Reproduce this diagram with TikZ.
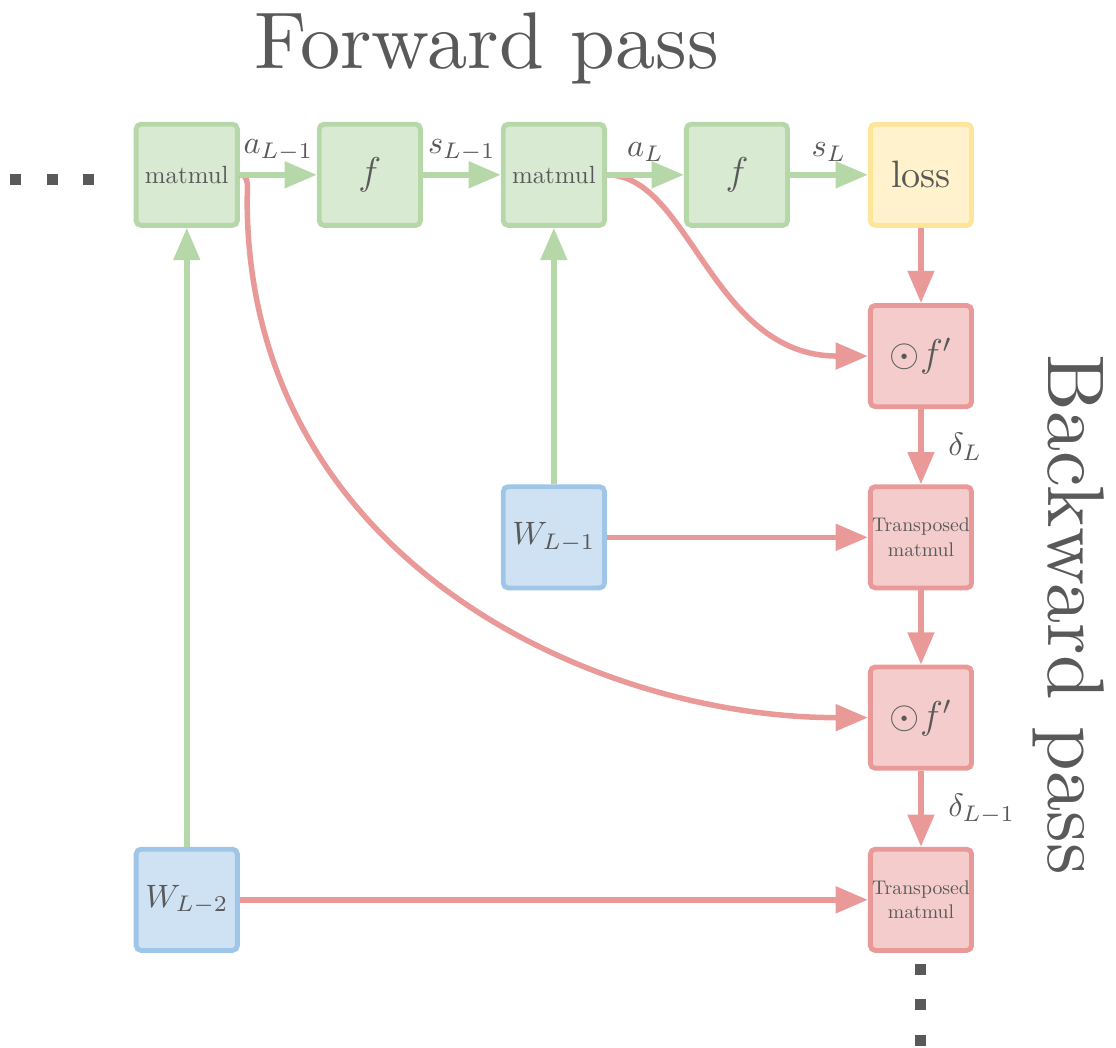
\documentclass[tikz,border=0pt]{standalone}
\usepackage{fontspec}
\setmainfont{lmroman10-regular.otf}
\usepackage{tikz}
\usetikzlibrary{arrows.meta}

\definecolor{fwdfill}{HTML}{D9EAD3}
\definecolor{fwddraw}{HTML}{B6D7A8}
\definecolor{lossfill}{HTML}{FFF2CC}
\definecolor{lossdraw}{HTML}{FFE599}
\definecolor{backfill}{HTML}{F4CCCC}
\definecolor{backdraw}{HTML}{EA9999}
\definecolor{wfill}{HTML}{CFE2F3}
\definecolor{wdraw}{HTML}{9FC5E8}
\definecolor{inkgray}{HTML}{595959}

\begin{document}
\begin{tikzpicture}[
    % Common box style
    block/.style={
        rectangle,
        rounded corners=1.5pt,
        line width=1.5pt,
        minimum size=1.1cm,
        inner sep=0pt,
        align=center,
        text=inkgray
    },
    % Forward pass boxes
    fwdbox/.style={block, draw=fwddraw, fill=fwdfill},
    % Loss box
    lossbox/.style={block, draw=lossdraw, fill=lossfill, font=\fontsize{11.8}{13}\selectfont},
    % Backward pass boxes
    backbox/.style={block, draw=backdraw, fill=backfill},
    % Weight boxes
    wbox/.style={block, draw=wdraw, fill=wfill},
    % Arrow styles
    fwdarrow/.style={
        -{Triangle[length=0.35cm, width=0.28cm]},
        line width=1.7pt,
        fwddraw
    },
    backarrow/.style={
        -{Triangle[length=0.35cm, width=0.28cm]},
        line width=1.7pt,
        backdraw
    },
    % Label style
    lbl/.style={text=inkgray},
    % Text sizes inside the boxes
    mmtext/.style={font=\fontsize{7.7}{9}\selectfont},
    tmtext/.style={font=\fontsize{6.1}{7.5}\selectfont}
]

\useasboundingbox (0,0) rectangle (12.13,-11.39);

% === Titles ===
\node[lbl, font=\Huge, anchor=base] (fwdtitle) at (5.29,-0.74) {Forward pass};
\node[lbl, font=\Huge, anchor=base, rotate=-90] (backtitle) at (11.40,-6.68) {Backward pass};

% === Forward row ===
\node[fwdbox, mmtext] (mm1) at (2.03,-1.90) {matmul};
\node[fwdbox, font=\large] (f1) at (4.02,-1.90) {$f$};
\node[fwdbox, mmtext] (mm2) at (6.02,-1.90) {matmul};
\node[fwdbox, font=\large] (f2) at (8.01,-1.90) {$f$};
\node[lossbox] (loss) at (10.01,-1.90) {loss};

% === Backward column ===
\node[backbox, font=\large] (fp1) at (10.01,-3.87) {$\odot f'$};
\node[backbox, tmtext] (tm1) at (10.01,-5.84) {Transposed\\matmul};
\node[backbox, font=\large] (fp2) at (10.01,-7.80) {$\odot f'$};
\node[backbox, tmtext] (tm2) at (10.01,-9.78) {Transposed\\matmul};

% === Weights ===
\node[wbox] (w1) at (6.02,-5.84) {$W_{L-1}$};
\node[wbox] (w2) at (2.03,-9.78) {$W_{L-2}$};

% === Continuation dots ===
\foreach \x in {0.17,0.57,0.96}
    \fill[inkgray] (\x-0.06,-1.89) rectangle ++(0.12,-0.12);
\foreach \y in {-10.54,-10.92,-11.31}
    \fill[inkgray] (9.95,\y+0.06) rectangle ++(0.12,-0.12);

% === Curved connectors (drawn first, under the forward arrows) ===
\draw[backarrow] (mm2.east) .. controls +(0.9,0) and +(-1.7,0) .. (fp1.west);
\draw[backarrow] (mm1.east) to[out=0, in=90] ++(0.08,-0.27)
    .. controls +(0,-3.9) and +(-3,0) .. (fp2.west);

% === Forward arrows ===
\draw[fwdarrow] (mm1.east) -- node[lbl, midway, above] {$a_{L-1}$} (f1.west);
\draw[fwdarrow] (f1.east) -- node[lbl, midway, above] {$s_{L-1}$} (mm2.west);
\draw[fwdarrow] (mm2.east) -- node[lbl, midway, above] {$a_L$} (f2.west);
\draw[fwdarrow] (f2.east) -- node[lbl, midway, above] {$s_L$} (loss.west);
\draw[fwdarrow] (w1.north) -- (mm2.south);
\draw[fwdarrow] (w2.north) -- (mm1.south);

% === Backward arrows ===
\draw[backarrow] (loss.south) -- (fp1.north);
\draw[backarrow] (fp1.south) -- node[lbl, midway, right=0.15cm] {$\delta_L$} (tm1.north);
\draw[backarrow] (tm1.south) -- (fp2.north);
\draw[backarrow] (fp2.south) -- node[lbl, midway, right=0.15cm] {$\delta_{L-1}$} (tm2.north);
\draw[backarrow] (w1.east) -- (tm1.west);
\draw[backarrow] (w2.east) -- (tm2.west);

\end{tikzpicture}
\end{document}
